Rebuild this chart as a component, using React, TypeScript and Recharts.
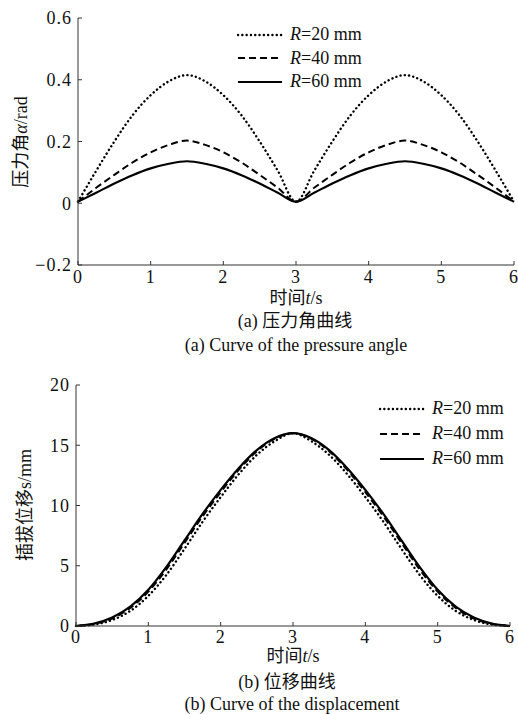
import { LineChart, Line, XAxis, YAxis, Legend } from "recharts";

// time axis (s)
const timeSteps = [0, 0.25, 0.5, 0.75, 1, 1.25, 1.5, 1.75, 2, 2.25, 2.5, 2.75, 3, 3.25, 3.5, 3.75, 4, 4.25, 4.5, 4.75, 5, 5.25, 5.5, 5.75, 6];
const xTicks = [0, 1, 2, 3, 4, 5, 6];

// (a) pressure angle, rad
const angleR20 = [0.005, 0.105, 0.2, 0.285, 0.35, 0.395, 0.415, 0.395, 0.35, 0.285, 0.2, 0.105, 0.005, 0.105, 0.2, 0.285, 0.35, 0.395, 0.415, 0.395, 0.35, 0.285, 0.2, 0.105, 0.005];
const angleR40 = [0.005, 0.05, 0.092, 0.132, 0.165, 0.189, 0.203, 0.189, 0.165, 0.132, 0.092, 0.05, 0.005, 0.05, 0.092, 0.132, 0.165, 0.189, 0.203, 0.189, 0.165, 0.132, 0.092, 0.05, 0.005];
const angleR60 = [0.005, 0.034, 0.064, 0.091, 0.113, 0.128, 0.136, 0.128, 0.113, 0.091, 0.064, 0.034, 0.005, 0.034, 0.064, 0.091, 0.113, 0.128, 0.136, 0.128, 0.113, 0.091, 0.064, 0.034, 0.005];
const angleTicks = [-0.2, 0, 0.2, 0.4, 0.6];

// (b) displacement, mm
const dispR20 = [0, 0.12, 0.5, 1.25, 2.5, 4.25, 6.4, 8.65, 10.7, 12.6, 14.2, 15.35, 16, 15.35, 14.2, 12.6, 10.7, 8.65, 6.4, 4.25, 2.5, 1.25, 0.5, 0.12, 0];
const dispR40 = [0, 0.17, 0.62, 1.5, 2.85, 4.7, 6.9, 9.1, 11.1, 12.95, 14.5, 15.55, 16, 15.55, 14.5, 12.95, 11.1, 9.1, 6.9, 4.7, 2.85, 1.5, 0.62, 0.17, 0];
const dispR60 = [0, 0.2, 0.7, 1.6, 3.0, 4.9, 7.1, 9.3, 11.3, 13.1, 14.6, 15.6, 16, 15.6, 14.6, 13.1, 11.3, 9.3, 7.1, 4.9, 3.0, 1.6, 0.7, 0.2, 0];
const dispTicks = [0, 5, 10, 15, 20];

const seriesNames = ["R=20 mm", "R=40 mm", "R=60 mm"];

const serif = "'Liberation Serif', 'Times New Roman', 'Noto Sans CJK SC', serif";
const ink = "#111";
const axisInk = "#333";

const lineStyles = {
  r20: { dash: "0.1 4.2", width: 2.4, cap: "round" },
  r40: { dash: "7 4", width: 2, cap: "butt" },
  r60: { dash: undefined, width: 2.2, cap: "butt" },
};

const angleData = timeSteps.map((t, i) => ({ t, r20: angleR20[i], r40: angleR40[i], r60: angleR60[i] }));
const dispData = timeSteps.map((t, i) => ({ t, r20: dispR20[i], r40: dispR40[i], r60: dispR60[i] }));

const tickStyle = { fill: ink, fontSize: 18, fontFamily: serif, letterSpacing: 1 };
const fmt = (v) => String(v).replace("-", "\u2212");

const LegendRows = ({ payload, rowHeight }) => (
  <div style={{ fontFamily: serif, fontSize: 18, color: ink }}>
    {(payload || []).map((p) => {
      const st = lineStyles[p.dataKey];
      return (
        <div key={p.dataKey} style={{ display: "flex", alignItems: "center", height: rowHeight, whiteSpace: "nowrap" }}>
          <svg width={46} height={10} style={{ display: "block" }}>
            <line x1={1} y1={5} x2={45} y2={5} stroke="#000" strokeWidth={st.width}
              strokeDasharray={st.dash} strokeLinecap={st.cap} />
          </svg>
          <span style={{ marginLeft: 7 }}><i>R</i>{String(p.value).slice(1)}</span>
        </div>
      );
    })}
  </div>
);

const seriesLines = () =>
  ["r20", "r40", "r60"].map((k, i) => (
    <Line
      key={k}
      type="monotone"
      dataKey={k}
      name={seriesNames[i]}
      stroke="#000"
      strokeWidth={lineStyles[k].width}
      strokeDasharray={lineStyles[k].dash}
      strokeLinecap={lineStyles[k].cap}
      dot={false}
      activeDot={false}
      isAnimationActive={false}
    />
  ));

const Text = ({ x, y, children, size = 18, rotate = false }) => (
  <div
    style={{
      position: "absolute", left: x, top: y, whiteSpace: "nowrap",
      transform: `translate(-50%, -50%)${rotate ? " rotate(-90deg)" : ""}`,
      fontFamily: serif, fontSize: size, color: ink, lineHeight: 1,
    }}
  >
    {children}
  </div>
);

export default function App() {
  return (
    <div style={{ position: "absolute", left: 0, top: 0, width: 518, height: 714, background: "#fff", overflow: "hidden" }}>
      <div style={{ position: "absolute", left: 0, top: 0 }}>
        <LineChart width={518} height={360} data={angleData} margin={{ top: 18, right: 4, bottom: 65, left: 0 }}>
          <XAxis type="number" dataKey="t" domain={[0, 6]} ticks={xTicks} interval={0} height={30}
            tick={tickStyle} tickSize={-4} tickMargin={9}
            axisLine={{ stroke: axisInk }} tickLine={{ stroke: axisInk }} />
          <YAxis type="number" domain={[-0.2, 0.6]} ticks={angleTicks} interval={0} width={78}
            tick={tickStyle} tickSize={-4} tickMargin={10} tickFormatter={fmt}
            axisLine={{ stroke: axisInk }} tickLine={{ stroke: axisInk }} />
          <Legend layout="vertical" align="center" verticalAlign="middle"
            wrapperStyle={{ left: 237, top: 23, width: "auto" }}
            content={(props) => <LegendRows payload={props.payload} rowHeight={23.5} />} />
          {seriesLines()}
        </LineChart>
      </div>
      <Text x={21} y={142} rotate>压力角<i>α</i>/rad</Text>
      <Text x={296} y={298}>时间<i>t</i>/s</Text>
      <Text x={295} y={321}>(a) 压力角曲线</Text>
      <Text x={296} y={345}>(a) Curve of the pressure angle</Text>

      <div style={{ position: "absolute", left: 0, top: 360 }}>
        <LineChart width={518} height={354} data={dispData} margin={{ top: 25, right: 8, bottom: 58, left: 0 }}>
          <XAxis type="number" dataKey="t" domain={[0, 6]} ticks={xTicks} interval={0} height={30}
            tick={tickStyle} tickSize={-4} tickMargin={8}
            axisLine={{ stroke: axisInk }} tickLine={{ stroke: axisInk }} />
          <YAxis type="number" domain={[0, 20]} ticks={dispTicks} interval={0} width={76}
            tick={tickStyle} tickSize={-4} tickMargin={10}
            axisLine={{ stroke: axisInk }} tickLine={{ stroke: axisInk }} />
          <Legend layout="vertical" align="center" verticalAlign="middle"
            wrapperStyle={{ left: 379, top: 36, width: "auto" }}
            content={(props) => <LegendRows payload={props.payload} rowHeight={25} />} />
          {seriesLines()}
        </LineChart>
      </div>
      <Text x={25} y={505} rotate>插拔位移s/mm</Text>
      <Text x={293} y={656}>时间<i>t</i>/s</Text>
      <Text x={287} y={682}>(b) 位移曲线</Text>
      <Text x={292} y={704}>(b) Curve of the displacement</Text>
    </div>
  );
}
